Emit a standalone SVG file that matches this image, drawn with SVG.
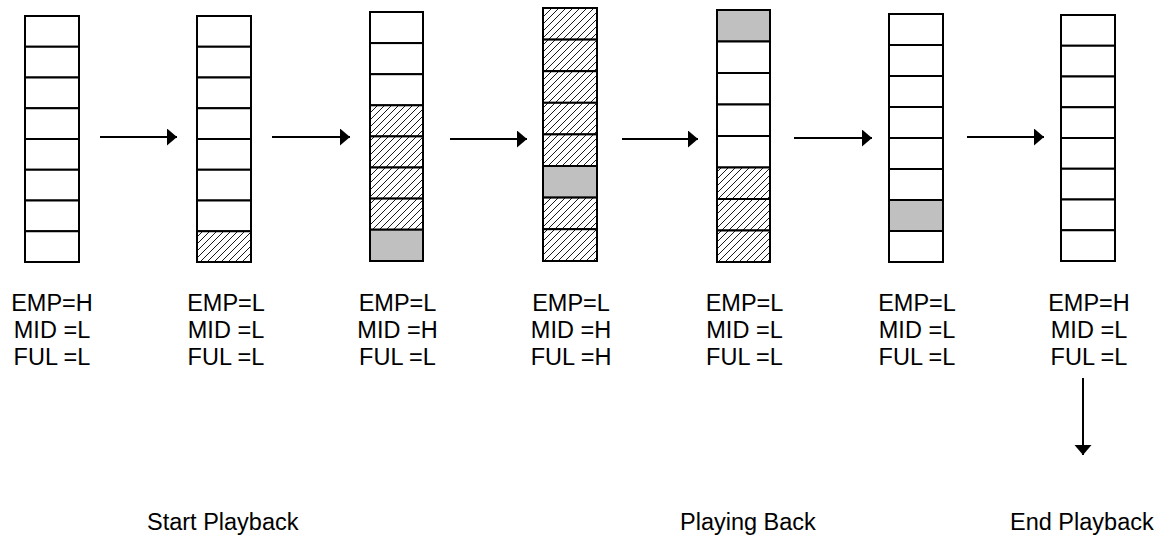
<svg xmlns="http://www.w3.org/2000/svg" width="1163" height="535" viewBox="0 0 1163 535">
<style>
.c{stroke:#000;stroke-width:2;fill:#fff}
.h{fill:url(#hatch)}
.g{fill:#c0c0c0}
.lbl{font-family:"Liberation Sans",Arial,sans-serif;font-size:23.5px;fill:#000;text-anchor:middle}
.cap{font-family:"Liberation Sans",Arial,sans-serif;font-size:23.5px;fill:#000}
.ar{stroke:#000;stroke-width:2;fill:none;marker-end:url(#ah)}
</style>
<defs>
<pattern id="hatch" patternUnits="userSpaceOnUse" width="7" height="7">
<rect width="7" height="7" fill="#fff"/>
<path d="M-1,1 l2,-2 M0,7 l7,-7 M6,8 l2,-2" stroke="#000" stroke-width="0.9"/>
</pattern>
<marker id="ah" markerUnits="userSpaceOnUse" markerWidth="12" markerHeight="18" refX="10" refY="8.5" orient="auto">
<path d="M0,0 L10,8.5 L0,17 Z" fill="#000"/>
</marker>
</defs>
<g id="col1">
<rect class="c" x="25" y="16" width="54" height="30.75"/>
<rect class="c" x="25" y="46.75" width="54" height="30.75"/>
<rect class="c" x="25" y="77.5" width="54" height="30.75"/>
<rect class="c" x="25" y="108.25" width="54" height="30.75"/>
<rect class="c" x="25" y="139" width="54" height="30.75"/>
<rect class="c" x="25" y="169.75" width="54" height="30.75"/>
<rect class="c" x="25" y="200.5" width="54" height="30.75"/>
<rect class="c" x="25" y="231.25" width="54" height="30.75"/>
<text class="lbl" x="52" y="311">EMP=H</text>
<text class="lbl" x="52" y="338">MID =L</text>
<text class="lbl" x="52" y="365">FUL =L</text>
</g>
<g id="col2">
<rect class="c" x="197" y="16" width="54" height="30.75"/>
<rect class="c" x="197" y="46.75" width="54" height="30.75"/>
<rect class="c" x="197" y="77.5" width="54" height="30.75"/>
<rect class="c" x="197" y="108.25" width="54" height="30.75"/>
<rect class="c" x="197" y="139" width="54" height="30.75"/>
<rect class="c" x="197" y="169.75" width="54" height="30.75"/>
<rect class="c" x="197" y="200.5" width="54" height="30.75"/>
<rect class="c h" x="197" y="231.25" width="54" height="30.75"/>
<text class="lbl" x="226" y="311">EMP=L</text>
<text class="lbl" x="226" y="338">MID =L</text>
<text class="lbl" x="226" y="365">FUL =L</text>
</g>
<g id="col3">
<rect class="c" x="370" y="12" width="53" height="31.1"/>
<rect class="c" x="370" y="43.1" width="53" height="31.1"/>
<rect class="c" x="370" y="74.2" width="53" height="31.1"/>
<rect class="c h" x="370" y="105.3" width="53" height="31.1"/>
<rect class="c h" x="370" y="136.4" width="53" height="31.1"/>
<rect class="c h" x="370" y="167.5" width="53" height="31.1"/>
<rect class="c h" x="370" y="198.6" width="53" height="31.1"/>
<rect class="c g" x="370" y="229.7" width="53" height="31.3"/>
<text class="lbl" x="397.5" y="311">EMP=L</text>
<text class="lbl" x="397.5" y="338">MID =H</text>
<text class="lbl" x="397.5" y="365">FUL =L</text>
</g>
<g id="col4">
<rect class="c h" x="543" y="8" width="54" height="31.6"/>
<rect class="c h" x="543" y="39.6" width="54" height="31.6"/>
<rect class="c h" x="543" y="71.2" width="54" height="31.6"/>
<rect class="c h" x="543" y="102.8" width="54" height="31.6"/>
<rect class="c h" x="543" y="134.4" width="54" height="31.6"/>
<rect class="c g" x="543" y="166" width="54" height="31.6"/>
<rect class="c h" x="543" y="197.6" width="54" height="31.6"/>
<rect class="c h" x="543" y="229.2" width="54" height="31.8"/>
<text class="lbl" x="571" y="311">EMP=L</text>
<text class="lbl" x="571" y="338">MID =H</text>
<text class="lbl" x="571" y="365">FUL =H</text>
</g>
<g id="col5">
<rect class="c g" x="717" y="10" width="53" height="31.5"/>
<rect class="c" x="717" y="41.5" width="53" height="31.5"/>
<rect class="c" x="717" y="73" width="53" height="31.5"/>
<rect class="c" x="717" y="104.5" width="53" height="31.5"/>
<rect class="c" x="717" y="136" width="53" height="31.5"/>
<rect class="c h" x="717" y="167.5" width="53" height="31.5"/>
<rect class="c h" x="717" y="199" width="53" height="31.5"/>
<rect class="c h" x="717" y="230.5" width="53" height="31.5"/>
<text class="lbl" x="744.5" y="311">EMP=L</text>
<text class="lbl" x="744.5" y="338">MID =L</text>
<text class="lbl" x="744.5" y="365">FUL =L</text>
</g>
<g id="col6">
<rect class="c" x="889" y="14" width="54" height="31"/>
<rect class="c" x="889" y="45" width="54" height="31"/>
<rect class="c" x="889" y="76" width="54" height="31"/>
<rect class="c" x="889" y="107" width="54" height="31"/>
<rect class="c" x="889" y="138" width="54" height="31"/>
<rect class="c" x="889" y="169" width="54" height="31"/>
<rect class="c g" x="889" y="200" width="54" height="31"/>
<rect class="c" x="889" y="231" width="54" height="31"/>
<text class="lbl" x="917" y="311">EMP=L</text>
<text class="lbl" x="917" y="338">MID =L</text>
<text class="lbl" x="917" y="365">FUL =L</text>
</g>
<g id="col7">
<rect class="c" x="1061" y="15" width="54" height="30.75"/>
<rect class="c" x="1061" y="45.75" width="54" height="30.75"/>
<rect class="c" x="1061" y="76.5" width="54" height="30.75"/>
<rect class="c" x="1061" y="107.25" width="54" height="30.75"/>
<rect class="c" x="1061" y="138" width="54" height="30.75"/>
<rect class="c" x="1061" y="168.75" width="54" height="30.75"/>
<rect class="c" x="1061" y="199.5" width="54" height="30.75"/>
<rect class="c" x="1061" y="230.25" width="54" height="30.75"/>
<text class="lbl" x="1089" y="311">EMP=H</text>
<text class="lbl" x="1089" y="338">MID =L</text>
<text class="lbl" x="1089" y="365">FUL =L</text>
</g>
<g id="connectors">
<line class="ar" x1="100" y1="137" x2="177" y2="137"/>
<line class="ar" x1="272" y1="137" x2="350" y2="137"/>
<line class="ar" x1="450" y1="139" x2="527" y2="139"/>
<line class="ar" x1="622" y1="139" x2="698" y2="139"/>
<line class="ar" x1="794" y1="138" x2="872" y2="138"/>
<line class="ar" x1="967" y1="137" x2="1044" y2="137"/>
<line class="ar" x1="1083" y1="378" x2="1083" y2="455"/>
</g>
<g id="captions">
<text class="cap" x="147" y="530">Start Playback</text>
<text class="cap" x="680" y="530">Playing Back</text>
<text class="cap" x="1010" y="530">End Playback</text>
</g>
</svg>
